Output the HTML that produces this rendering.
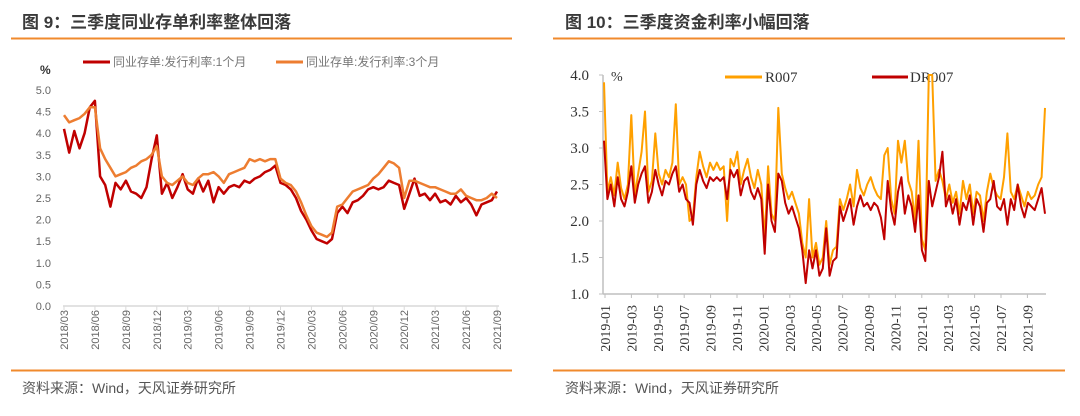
<!DOCTYPE html>
<html><head><meta charset="utf-8"><style>
body{margin:0;width:1080px;height:416px;background:#fff;overflow:hidden;font-family:"Liberation Sans","Noto Sans CJK SC",sans-serif}
svg{position:absolute;left:0;top:0}
</style></head><body>
<svg id="s" width="1080" height="416">
<g>
<text x="22" y="28" font-size="17" font-weight="bold" fill="#3a3a3a" font-family="Liberation Sans, Noto Sans CJK SC, sans-serif">图 9：三季度同业存单利率整体回落</text>
<line x1="11" y1="38.5" x2="512" y2="38.5" stroke="#f08a2c" stroke-width="2"/>
<line x1="11" y1="370.5" x2="512" y2="370.5" stroke="#f08a2c" stroke-width="2"/>
<text x="22" y="393" font-size="14" fill="#555">资料来源：Wind，天风证券研究所</text>
<text x="40" y="74" font-size="12" font-weight="bold" fill="#333">%</text>
<g>
<line x1="83" y1="62" x2="110" y2="62" stroke="#c00000" stroke-width="3"/>
<text x="113" y="66" font-size="12" fill="#777">同业存单:发行利率:1个月</text>
<line x1="276" y1="62" x2="303" y2="62" stroke="#ed7d31" stroke-width="3"/>
<text x="306" y="66" font-size="12" fill="#777">同业存单:发行利率:3个月</text>
</g>
<g id="L"></g>
</g>
<g>
<text x="565" y="28" font-size="17" font-weight="bold" fill="#3a3a3a">图 10：三季度资金利率小幅回落</text>
<line x1="553" y1="38.5" x2="1065" y2="38.5" stroke="#f08a2c" stroke-width="2"/>
<line x1="553" y1="370.5" x2="1065" y2="370.5" stroke="#f08a2c" stroke-width="2"/>
<text x="565" y="393" font-size="14" fill="#555">资料来源：Wind，天风证券研究所</text>
<text x="611" y="81" font-size="14" fill="#333" font-family="Liberation Serif, serif">%</text>
<g>
<line x1="725" y1="77" x2="762" y2="77" stroke="#ffa000" stroke-width="3"/>
<text x="765" y="82" font-size="15" fill="#333" font-family="Liberation Serif, serif">R007</text>
<line x1="872" y1="77" x2="908" y2="77" stroke="#c00000" stroke-width="3"/>
<text x="910" y="82" font-size="15" fill="#333" font-family="Liberation Serif, serif">DR007</text>
</g>
<g id="R"></g>
</g>
</svg>
<script>
// Left chart data (half-month steps, 2018/03 -> 2021/09)
const leftTicks=["2018/03","2018/06","2018/09","2018/12","2019/03","2019/06","2019/09","2019/12","2020/03","2020/06","2020/09","2020/12","2021/03","2021/06","2021/09"];
const leftYTicks=["0.0","0.5","1.0","1.5","2.0","2.5","3.0","3.5","4.0","4.5","5.0"];
const ncd1m=[4.1,3.55,4.05,3.65,4.0,4.6,4.75,3.0,2.8,2.3,2.85,2.7,2.9,2.65,2.6,2.5,2.75,3.4,3.95,2.6,2.85,2.5,2.75,3.05,2.7,2.6,2.95,2.65,2.9,2.4,2.75,2.6,2.75,2.8,2.75,2.9,2.85,2.95,3.0,3.1,3.15,3.25,2.85,2.8,2.7,2.5,2.2,2.0,1.75,1.55,1.5,1.45,1.55,2.15,2.3,2.15,2.4,2.45,2.55,2.7,2.75,2.7,2.75,2.9,2.85,2.8,2.25,2.6,2.95,2.55,2.6,2.45,2.6,2.4,2.45,2.35,2.55,2.4,2.5,2.35,2.1,2.35,2.4,2.45,2.65];
const ncd3m=[4.42,4.25,4.3,4.35,4.45,4.6,4.6,3.65,3.4,3.2,3.0,3.05,3.1,3.2,3.25,3.35,3.4,3.5,3.7,3.0,2.85,2.8,2.9,3.0,2.85,2.8,2.95,3.05,3.05,3.1,3.0,2.85,3.05,3.1,3.15,3.2,3.4,3.35,3.4,3.35,3.4,3.4,2.95,2.85,2.8,2.65,2.4,2.1,1.85,1.7,1.65,1.6,1.7,2.3,2.35,2.5,2.65,2.7,2.75,2.8,2.95,3.05,3.2,3.35,3.3,3.2,2.5,2.9,2.9,2.85,2.8,2.75,2.75,2.7,2.65,2.6,2.6,2.7,2.55,2.5,2.45,2.45,2.5,2.6,2.5];
// Right chart data (2019-01 -> 2021-09)
const rightTicks=["2019-01","2019-03","2019-05","2019-07","2019-09","2019-11","2020-01","2020-03","2020-05","2020-07","2020-09","2020-11","2021-01","2021-03","2021-05","2021-07","2021-09"];
const rightYTicks=["1.0","1.5","2.0","2.5","3.0","3.5","4.0"];
const dr007=[3.1,2.3,2.5,2.2,2.6,2.3,2.2,2.4,2.75,2.25,2.5,2.65,2.75,2.25,2.4,2.7,2.5,2.35,2.55,2.5,2.65,2.75,2.4,2.5,2.3,2.25,1.95,2.5,2.7,2.55,2.45,2.6,2.55,2.6,2.55,2.6,2.3,2.7,2.6,2.7,2.35,2.55,2.6,2.4,2.3,2.45,2.3,1.55,2.5,2.0,1.85,2.65,2.55,2.25,2.1,2.2,2.05,1.9,1.6,1.15,1.6,1.35,1.6,1.25,1.35,1.9,1.25,1.45,1.5,2.2,2.0,2.15,2.3,1.95,2.2,2.35,2.2,2.25,2.15,2.25,2.2,2.05,1.75,2.55,2.15,1.95,2.4,2.6,2.1,2.35,2.2,1.85,2.35,1.6,1.45,2.55,2.2,2.4,2.6,2.95,2.2,2.35,2.1,2.3,1.95,2.25,2.15,2.35,1.95,2.3,2.2,1.85,2.25,2.3,2.55,2.2,2.15,2.3,1.95,2.3,2.15,2.5,2.2,2.05,2.25,2.2,2.15,2.3,2.45,2.1];
const r007=[3.9,2.4,2.6,2.35,2.8,2.45,2.3,2.5,3.45,2.35,2.65,2.95,3.5,2.4,2.55,3.2,2.65,2.5,2.7,2.6,2.8,3.6,2.5,2.6,2.5,2.0,2.05,2.6,2.95,2.75,2.6,2.8,2.7,2.8,2.7,2.75,2.0,2.85,2.75,2.95,2.5,2.7,2.85,2.6,2.45,2.7,2.5,1.75,2.75,2.1,2.0,3.55,2.65,2.45,2.3,2.4,2.25,2.1,1.7,1.5,2.3,1.5,1.7,1.4,1.5,2.0,1.4,1.6,1.65,2.3,2.15,2.3,2.5,2.2,2.7,2.45,2.35,2.5,2.6,2.45,2.35,2.3,2.9,3.0,2.3,2.1,3.1,2.8,3.1,2.55,2.4,2.0,3.1,1.75,1.6,4.0,4.0,2.55,2.7,2.55,2.3,2.5,2.25,2.4,2.1,2.55,2.3,2.5,2.1,2.4,2.35,2.0,2.4,2.65,2.45,2.35,2.3,2.6,3.2,2.4,2.3,2.5,2.35,2.2,2.4,2.3,2.35,2.5,2.6,3.55];

const NS="http://www.w3.org/2000/svg";
function mk(p,t,a){const e=document.createElementNS(NS,t);for(const k in a)e.setAttribute(k,a[k]);p.appendChild(e);return e;}

// LEFT
const L=document.getElementById('L');
const lx0=64,lx1=497,ly0=306,ly1=90;
const lxs=i=>lx0+(lx1-lx0)*i/(ncd1m.length-1);
const lys=v=>ly0-(ly0-ly1)*v/5;
leftYTicks.forEach(t=>{const e=mk(L,'text',{x:51,y:lys(+t)+4,'text-anchor':'end','font-size':11,fill:'#666'});e.textContent=t;

});
const lax=mk(L,'line',{x1:lx0-1,y1:ly0,x2:lx1+2,y2:ly0,stroke:'#d9d9d9','stroke-width':1.5});


leftTicks.forEach((t,i)=>{const x=lx0+(lx1-lx0)*i/(leftTicks.length-1);
const tk=mk(L,'line',{x1:x,y1:ly0,x2:x,y2:ly0+4,stroke:'#d9d9d9'});


const e=mk(L,'text',{transform:`translate(${x+4},310) rotate(-90)`,'text-anchor':'end','font-size':11,fill:'#666'});e.textContent=t;

});
function lline(arr,c,name){const p=mk(L,'path',{d:arr.map((v,i)=>(i?'L':'M')+lxs(i).toFixed(1)+','+lys(v).toFixed(1)).join(''),fill:'none',stroke:c,'stroke-width':2.5,'stroke-linejoin':'round'});

}
lline(ncd1m,'#c00000','line-ncd-1m');
lline(ncd3m,'#ed7d31','line-ncd-3m');

// RIGHT
const R=document.getElementById('R');
const rx0=604,rx1=1045,ry0=294,ry1=75;
const rxs=i=>rx0+(rx1-rx0)*i/(dr007.length-1);
const rys=v=>ry0-(ry0-ry1)*(v-1)/3;
rightYTicks.forEach(t=>{const y=rys(+t);
const e=mk(R,'text',{x:589,y:y+5,'text-anchor':'end','font-size':15,fill:'#333','font-family':'Liberation Serif, serif'});e.textContent=t;


const tk=mk(R,'line',{x1:599,y1:y,x2:603,y2:y,stroke:'#bfbfbf'});

});
const ray=mk(R,'line',{x1:603,y1:ry1,x2:603,y2:ry0,stroke:'#bfbfbf','stroke-width':1.5});


const rax=mk(R,'line',{x1:603,y1:ry0,x2:1046,y2:ry0,stroke:'#bfbfbf','stroke-width':1.5});


rightTicks.forEach((t,i)=>{const x=605+26.4*i;
const tk=mk(R,'line',{x1:x,y1:ry0,x2:x,y2:ry0+4,stroke:'#bfbfbf'});


const e=mk(R,'text',{transform:`translate(${x+5},305) rotate(-90)`,'text-anchor':'end','font-size':14,fill:'#333','font-family':'Liberation Serif, serif'});e.textContent=t;

});
function rline(arr,c,name){const p=mk(R,'path',{d:arr.map((v,i)=>(i?'L':'M')+rxs(i).toFixed(1)+','+rys(v).toFixed(1)).join(''),fill:'none',stroke:c,'stroke-width':2,'stroke-linejoin':'round'});

}
rline(r007,'#ffa000','line-r007');
rline(dr007,'#c00000','line-dr007');
</script>
</body></html>
